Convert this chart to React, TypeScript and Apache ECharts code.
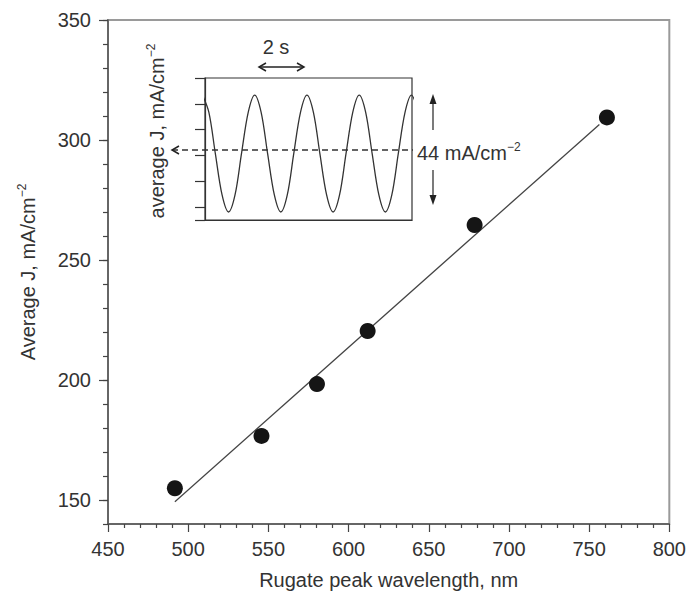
import React, { useEffect, useRef } from "react";
import * as echarts from "echarts";

// Main scatter data (Rugate peak wavelength, nm -> Average J, mA/cm^-2)
const wavelength = [491.7, 545.7, 580.3, 611.9, 678.6, 761.1];
const averageJ = [154.9, 176.7, 198.3, 220.4, 264.6, 309.4];

// Linear fit line end points
const fitX = [491.7, 756.4];
const fitY = [149.3, 306.5];

// Axis ticks
const yMajorTicks = [150, 200, 250, 300, 350];

// Inset: current oscillation (time in s, level measured down from top of inset)
const insetTime = [
  -0.1, 0.15, 0.4, 0.66, 0.91, 1.16, 1.41, 1.67,
  1.92, 2.17, 2.42, 2.68, 2.93, 3.18, 3.43, 3.69,
  3.94, 4.19, 4.44, 4.7, 4.95, 5.2, 5.45, 5.71,
  5.96, 6.21, 6.46, 6.72, 6.97, 7.22, 7.47, 7.73,
  7.98, 8.23,
];
const insetJ = [
  0.66, 1.33, 2.93, 4.53, 5.19, 4.53, 2.93, 1.33,
  0.66, 1.33, 2.93, 4.53, 5.19, 4.53, 2.93, 1.33,
  0.66, 1.33, 2.93, 4.53, 5.19, 4.53, 2.93, 1.33,
  0.66, 1.33, 2.93, 4.53, 5.19, 4.53, 2.93, 1.33,
  0.66, 1.33,
];

const FONT = "Liberation Sans";
const TXT = "#333";
const FS = 20;

export default function App() {
  const ref = useRef<HTMLDivElement>(null);
  useEffect(() => {
    if (!ref.current) return;
    const chart = echarts.init(ref.current, null, { renderer: "svg" });
    const supStyle = { fontSize: 12, fontFamily: FONT, color: TXT, verticalAlign: "top", lineHeight: 24 };
    chart.setOption({
      animation: false,
      backgroundColor: "#fff",
      grid: [
        {
          left: 108, right: 19, top: 20, bottom: 75,
          show: true, borderColor: "#9a9a9a", borderWidth: 2, backgroundColor: "transparent",
        },
        {
          left: 205, top: 78, width: 207, height: 142,
          show: true, borderColor: "#333", borderWidth: 1.2, backgroundColor: "transparent",
        },
      ],
      xAxis: [
        {
          gridIndex: 0, type: "value", min: 450, max: 800, interval: 50,
          name: "Rugate peak wavelength, nm", nameLocation: "middle", nameGap: 46,
          nameTextStyle: { fontSize: FS, fontFamily: FONT, color: TXT },
          axisLine: { show: true, onZero: false, lineStyle: { color: "#555", width: 1.5 } },
          axisTick: { show: true, inside: false, length: 8, lineStyle: { color: "#444", width: 1.2 } },
          minorTick: { show: true, splitNumber: 5, length: 4, lineStyle: { color: "#444", width: 1.2 } },
          axisLabel: { margin: 15, fontSize: FS, fontFamily: FONT, color: TXT },
          splitLine: { show: false },
        },
        {
          gridIndex: 1, type: "value", min: 0, max: 8,
          axisLine: { show: true, onZero: false, lineStyle: { color: "#333", width: 1.2 } },
          axisTick: { show: false }, axisLabel: { show: false }, splitLine: { show: false },
        },
      ],
      yAxis: [
        {
          gridIndex: 0, type: "value", min: 140, max: 350, splitNumber: 4, position: "left",
          name: "Average J, mA/cm{sup|−2}", nameLocation: "middle", nameGap: 68, nameRotate: 90,
          nameTextStyle: { fontSize: FS, fontFamily: FONT, color: TXT, lineHeight: 24, rich: { sup: supStyle } },
          axisLine: { show: true, onZero: false, lineStyle: { color: "#555", width: 1.5 } },
          axisTick: { show: true, inside: false, length: 9, customValues: yMajorTicks, lineStyle: { color: "#444", width: 1.2 } },
          axisLabel: {
            margin: 17, fontSize: FS, fontFamily: FONT, color: TXT, customValues: yMajorTicks,
            formatter: (v: number) => (v % 50 === 0 ? String(v) : ""),
          },
          splitLine: { show: false },
        },
        {
          gridIndex: 0, type: "value", min: 140, max: 350, interval: 10, position: "left",
          axisLine: { show: false },
          axisTick: { show: true, inside: false, length: 5, lineStyle: { color: "#444", width: 1.2 } },
          axisLabel: { show: false }, splitLine: { show: false },
        },
        {
          gridIndex: 1, type: "value", min: 0, max: 5.5, interval: 1, inverse: true,
          axisLine: { show: true, onZero: false, lineStyle: { color: "#333", width: 1.2 } },
          axisTick: { show: true, inside: false, length: 10, lineStyle: { color: "#333", width: 1.2 } },
          axisLabel: { show: false }, splitLine: { show: false },
        },
      ],
      series: [
        {
          type: "line", xAxisIndex: 0, yAxisIndex: 0,
          data: fitX.map((x, i) => [x, fitY[i]]),
          showSymbol: false, symbol: "none",
          lineStyle: { color: "#444", width: 1.3 }, z: 2,
        },
        {
          type: "scatter", xAxisIndex: 0, yAxisIndex: 0,
          data: wavelength.map((x, i) => [x, averageJ[i]]),
          symbol: "circle", symbolSize: 16,
          itemStyle: { color: "#151515", opacity: 1 }, z: 3,
        },
        {
          type: "line", xAxisIndex: 1, yAxisIndex: 2,
          data: insetTime.map((t, i) => [t, insetJ[i]]),
          smooth: 0.33, showSymbol: false, symbol: "none", clip: true,
          lineStyle: { color: "#333", width: 1.3 },
        },
      ],
      graphic: [
        {
          type: "text", x: 157, y: 131, rotation: Math.PI / 2,
          style: {
            text: "average J, mA/cm{sup|−2}", fontSize: FS, fontFamily: FONT, fill: TXT,
            align: "center", verticalAlign: "middle", lineHeight: 24,
            rich: { sup: { fontSize: 12, fontFamily: FONT, fill: TXT, verticalAlign: "top", lineHeight: 24 } },
          },
        },
        {
          type: "text", x: 276, y: 47,
          style: { text: "2 s", fontSize: FS, fontFamily: FONT, fill: TXT, align: "center", verticalAlign: "middle" },
        },
        { type: "line", shape: { x1: 259, y1: 67, x2: 304, y2: 67 }, style: { stroke: "#222", lineWidth: 1.3 } },
        { type: "polyline", shape: { points: [[266, 63], [259, 67], [266, 71]] }, style: { stroke: "#222", fill: "none", lineWidth: 1.5 } },
        { type: "polyline", shape: { points: [[297, 63], [304, 67], [297, 71]] }, style: { stroke: "#222", fill: "none", lineWidth: 1.5 } },
        { type: "line", shape: { x1: 172, y1: 150, x2: 413, y2: 150 }, style: { stroke: "#333", lineWidth: 1.3, lineDash: [6, 4] } },
        { type: "polyline", shape: { points: [[179, 146], [172, 150], [179, 154]] }, style: { stroke: "#222", fill: "none", lineWidth: 1.5 } },
        {
          type: "text", x: 417, y: 153,
          style: {
            text: "44 mA/cm{sup|−2}", fontSize: FS, fontFamily: FONT, fill: TXT,
            align: "left", verticalAlign: "middle", lineHeight: 24,
            rich: { sup: { fontSize: 12, fontFamily: FONT, fill: TXT, verticalAlign: "top", lineHeight: 24 } },
          },
        },
        { type: "line", shape: { x1: 433, y1: 130, x2: 433, y2: 100 }, style: { stroke: "#222", lineWidth: 1.2 } },
        { type: "polygon", shape: { points: [[433, 94], [429.5, 104], [436.5, 104]] }, style: { fill: "#222" } },
        { type: "line", shape: { x1: 433, y1: 170, x2: 433, y2: 199 }, style: { stroke: "#222", lineWidth: 1.2 } },
        { type: "polygon", shape: { points: [[433, 205], [429.5, 195], [436.5, 195]] }, style: { fill: "#222" } },
      ],
    });
    return () => chart.dispose();
  }, []);
  return <div ref={ref} style={{ width: 689, height: 599, position: "absolute", left: 0, top: 0 }} />;
}
